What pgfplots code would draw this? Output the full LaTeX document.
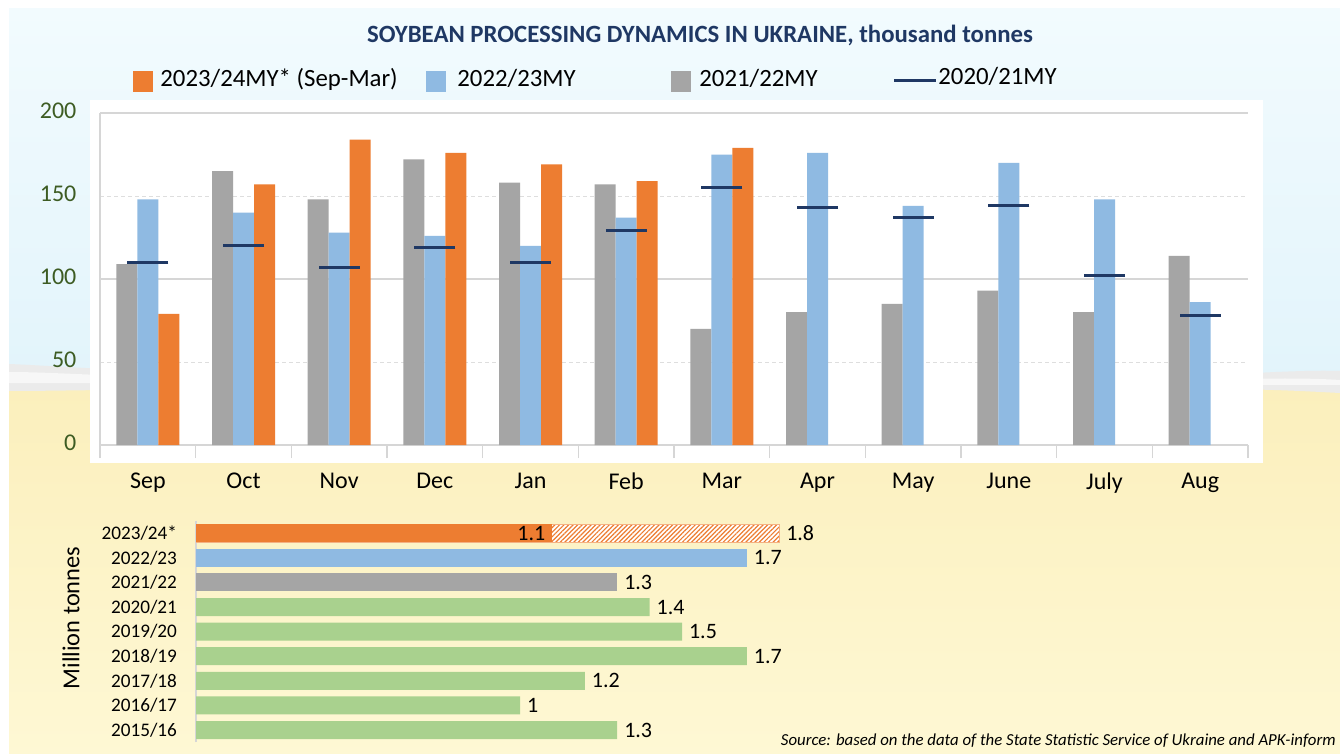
\documentclass[border=0pt]{standalone}
\usepackage{pgfplots}
\pgfplotsset{compat=1.18}
\usetikzlibrary{patterns.meta}
\usepackage{fontspec}
\setmainfont{Carlito}
\definecolor{cOr}{HTML}{ED7D31}
\definecolor{cBl}{HTML}{8FBAE2}
\definecolor{cGr}{HTML}{A5A5A5}
\definecolor{cGn}{HTML}{A9D18E}
\definecolor{cNv}{HTML}{1F3864}
\definecolor{cTk}{HTML}{3D5C23}
\definecolor{cGrid}{HTML}{D6D6D6}
\definecolor{cSkyT}{HTML}{F2FBFE}
\definecolor{cSkyB}{HTML}{E2F4FB}
\definecolor{cYelT}{HTML}{FBEFBC}
\definecolor{cYelB}{HTML}{FEF8D4}
\begin{document}
\begin{tikzpicture}[x=0.5pt,y=-0.5pt]
% background
\fill[white] (0,0) rectangle (1340,754);
\shade[top color=cSkyT, bottom color=cSkyB] (9,9) rectangle (1340,380);
\shade[top color=cYelT, bottom color=cYelB] (9,380) rectangle (1340,754);
\fill[gray!16] (9,364) .. controls (60,366) and (120,372) .. (300,374) -- (1200,376) .. controls (1270,372) and (1310,370) .. (1340,371)
  -- (1340,393) .. controls (1300,391) and (1270,389) .. (1200,389) -- (300,389) .. controls (120,389) and (60,391) .. (9,391) -- cycle;
\fill[gray!6] (9,372) .. controls (60,372) and (120,378) .. (300,380) -- (1200,380) .. controls (1270,378) and (1310,378) .. (1340,380)
  -- (1340,385) -- (9,383) -- cycle;
% plot area
\fill[white] (90,100) rectangle (1263,463);
% title
\node[font=\fontsize{12.4}{15}\selectfont\bfseries, text=cNv] at (700,35) {SOYBEAN PROCESSING DYNAMICS IN UKRAINE, thousand tonnes};
% legend
\fill[cOr] (133,71) rectangle (153,92);
\node[anchor=base west, inner sep=0pt, font=\fontsize{12.4}{15}\selectfont] at (160,87) {2023/24MY* (Sep-Mar)};
\fill[cBl] (426,71) rectangle (446,92);
\node[anchor=base west, inner sep=0pt, font=\fontsize{12.4}{15}\selectfont] at (457,87) {2022/23MY};
\fill[cGr] (671,71) rectangle (691,92);
\node[anchor=base west, inner sep=0pt, font=\fontsize{12.4}{15}\selectfont] at (699,87) {2021/22MY};
\draw[cNv, line width=1.5pt] (894,81) -- (936,81);
\node[anchor=base west, inner sep=0pt, font=\fontsize{12.4}{15}\selectfont] at (938,85) {2020/21MY};

% top chart
\begin{axis}[at={(50pt,-222.5pt)}, anchor=south west, scale only axis,
  width=574pt, height=166pt,
  xmin=-0.5, xmax=11.5, ymin=0, ymax=200, clip=false,
  axis x line=bottom, axis y line=left,
  axis line style={-, draw=cGrid, line width=0.8pt},
  tick align=outside,
  xtick={0,...,11},
  xticklabels={Sep,Oct,Nov,Dec,Jan,Feb,Mar,Apr,May,June,July,Aug},
  major x tick style={draw=none},
  minor xtick={-0.5,0.5,...,11.5}, minor tick length=6.5pt,
  minor x tick style={draw=cGrid, line width=0.8pt},
  xticklabel style={font=\fontsize{12}{14}\selectfont, text=black, yshift=-6pt},
  ytick={0,50,100,150,200},
  major y tick style={draw=none},
  ymajorgrids,
  major grid style={draw=cGrid!80, dash pattern=on 2pt off 1.5pt, line width=0.5pt},
  extra y ticks={100,200}, extra y tick labels={},
  extra y tick style={major grid style={draw=cGrid, solid, line width=0.9pt}},
  yticklabel style={font=\fontsize{12}{14}\selectfont, text=cTk, xshift=-4pt, yshift=1pt},
  /pgf/number format/assume math mode=true,
]
\addplot[ybar, bar width=10.5pt, bar shift=-10.5pt, fill=cGr, draw=none] coordinates {
 (0,109) (1,165) (2,148) (3,172) (4,158) (5,157) (6,70) (7,80) (8,85) (9,93) (10,80) (11,114)};
\addplot[ybar, bar width=10.5pt, bar shift=0pt, fill=cBl, draw=none] coordinates {
 (0,148) (1,140) (2,128) (3,126) (4,120) (5,137) (6,175) (7,176) (8,144) (9,170) (10,148) (11,86)};
\addplot[ybar, bar width=10.5pt, bar shift=10.5pt, fill=cOr, draw=none] coordinates {
 (0,79) (1,157) (2,184) (3,176) (4,169) (5,159) (6,179)};
\addplot[only marks, mark=-, mark size=10.25pt, mark options={line width=1.5pt, draw=cNv}] coordinates {
 (0,110) (1,120) (2,107) (3,119) (4,110) (5,129) (6,155) (7,143) (8,137) (9,144) (10,102) (11,78)};
\end{axis}

% bottom chart
\begin{axis}[at={(98pt,-371.15pt)}, anchor=south west, scale only axis,
  width=324pt, height=110.7pt,
  xmin=0, xmax=2, ymin=-0.5, ymax=8.5, clip=false,
  hide x axis, axis y line=left,
  axis line style={-, draw=cGrid, line width=0.8pt},
  ytick={0,...,8},
  yticklabels={2015/16,2016/17,2017/18,2018/19,2019/20,2020/21,2021/22,2022/23,2023/24*},
  major tick length=0pt,
  yticklabel style={font=\fontsize{9.6}{11}\selectfont, text=black, xshift=-6pt},
  nodes near coords, point meta=x,
  nodes near coords align={horizontal},
  nodes near coords style={font=\fontsize{11}{13}\selectfont, text=black},
  /pgf/number format/assume math mode=true,
]
\addplot[xbar, bar width=9pt, bar shift=0pt, draw=cOr!60, line width=0.4pt, fill=white,
  postaction={pattern={Lines[angle=45,distance=1.6pt,line width=0.6pt]}, pattern color=cOr}] coordinates {(1.8,8)};
\addplot[xbar, bar width=9pt, bar shift=0pt, fill=cOr, draw=none, nodes near coords align={anchor=east}] coordinates {(1.1,8)};
\addplot[xbar, bar width=9pt, bar shift=0pt, fill=cBl, draw=none] coordinates {(1.7,7)};
\addplot[xbar, bar width=9pt, bar shift=0pt, fill=cGr, draw=none] coordinates {(1.3,6)};
\addplot[xbar, bar width=9pt, bar shift=0pt, fill=cGn, draw=none] coordinates {
 (1.3,0) (1.0,1) (1.2,2) (1.7,3) (1.5,4) (1.4,5)};
\end{axis}

\node[rotate=90, font=\fontsize{12.2}{14}\selectfont] at (71,618) {Million tonnes};
\node[anchor=base east, inner sep=0pt, font=\fontsize{8.4}{10}\selectfont\itshape] at (1336,745)
  {Source: based on the data of the State Statistic Service of Ukraine and APK-inform};
\end{tikzpicture}
\end{document}
